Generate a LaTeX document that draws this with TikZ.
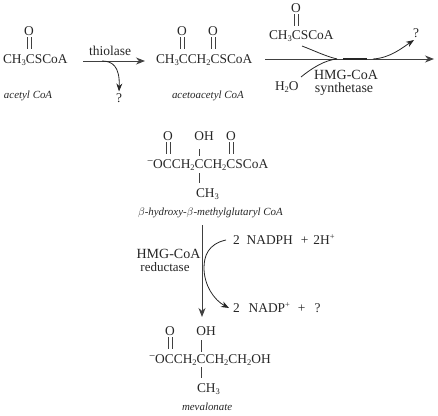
\documentclass[tikz,border=0pt]{standalone}
\usepackage{fontspec}
\setmainfont{Liberation Serif}
\usetikzlibrary{arrows.meta}
\newcommand{\chemsub}[1]{\raisebox{-0.35ex}{\fontsize{8.5}{9}\selectfont #1}}
\newcommand{\chemsup}[1]{\raisebox{0.75ex}{\fontsize{8.5}{9}\selectfont #1}}
\newcommand{\chemminus}{\raisebox{0.62ex}{\fontsize{11}{12}\selectfont −}}
\tikzset{
  every node/.style={inner sep=0pt,outer sep=0pt,text=black!85},
  chemtext/.style={anchor=base west,font=\fontsize{13.4}{15}\selectfont},
  atomtext/.style={anchor=center,font=\fontsize{13.4}{15}\selectfont},
  enzyme/.style={anchor=base,font=\fontsize{14}{16}\selectfont},
  molname/.style={anchor=base west,font=\fontsize{10.9}{12}\selectfont\itshape},
  bondline/.style={draw=black!75,line width=0.7pt},
  rxnarrow/.style={draw=black!75,line width=1pt,-{Stealth[length=9pt,width=7pt]}},
  sideline/.style={draw=black!85,line width=0.8pt},
  sidearrow/.style={sideline,-{Stealth[length=8pt,width=6pt]}},
}
\newcommand{\dbl}[3]{\draw[bondline] ([xshift=-2pt,yshift=-#2]#1.south) -- ++(0,#3); \draw[bondline] ([xshift=2pt,yshift=-#2]#1.south) -- ++(0,#3);}
\begin{document}
\begin{tikzpicture}[x=1pt,y=-1pt]
\useasboundingbox (0,0) rectangle (438,415);
% acetyl CoA
\node[chemtext] (m1) at (3,63) {CH\chemsub{3}CSCoA};
\node[atomtext] (o1) at (29,31) {O};
\dbl{o1}{1.5pt}{12}
\node[molname] (n1) at (4,98) {acetyl CoA};
% thiolase
\coordinate (a1s) at (83,61); \coordinate (a1e) at (145,61);
\draw[rxnarrow] (a1s) -- (a1e);
\node[enzyme,font=\fontsize{13.5}{15}\selectfont] (e1) at (110,55) {thiolase};
\coordinate (s1) at (102,61);
\node[atomtext] (q1) at (119,98) {?};
\draw[sidearrow] (s1) .. controls (112,61) and (120,66) .. ([yshift=2pt]q1.north);
% acetoacetyl CoA
\node[chemtext] (m2) at (156,63) {CH\chemsub{3}CCH\chemsub{2}CSCoA};
\node[atomtext] (o2) at (182,31) {O};
\node[atomtext] (o3) at (213,31) {O};
\dbl{o2}{1.5pt}{12}
\dbl{o3}{1.5pt}{12}
\node[molname] (n2) at (172,98) {acetoacetyl CoA};
% synthase step
\coordinate (a2s) at (265,59); \coordinate (a2e) at (434,59);
\draw[rxnarrow] (a2s) -- (a2e);
\node[chemtext] (m3) at (269,39) {CH\chemsub{3}CSCoA};
\node[atomtext] (o4) at (296,8) {O};
\dbl{o4}{1.5pt}{12}
\node[chemtext] (w) at (275,90) {H\chemsub{2}O};
\coordinate (j1) at (337,59); \coordinate (j2) at (373,59);
\draw[sideline] (302,46) .. controls (315,51) and (325,56) .. (j1);
\draw[sideline] (301,77) .. controls (312,68) and (325,60) .. (j1);
\draw[line width=1.5pt,draw=black!85] (343,59) -- (367,59);
\node[atomtext] (q2) at (416,33) {?};
\draw[sidearrow] (j2) .. controls (390,58) and (402,48) .. (414,40);
\node[enzyme] (e2) at (346,79) {HMG-CoA};
\node[enzyme] (e2b) at (344,92) {synthetase};
% HMG-CoA
\node[chemtext] (m4) at (147,168) {\chemminus OCCH\chemsub{2}CCH\chemsub{2}CSCoA};
\node[atomtext] (o5) at (168,136) {O};
\node[atomtext] (oh1) at (204,136) {OH};
\node[atomtext] (o6) at (231,136) {O};
\dbl{o5}{1.5pt}{12}
\dbl{o6}{1.5pt}{12}
\draw[bondline] (199,149) -- (199,156);
\draw[bondline] (199,173) -- (199,183);
\node[chemtext] (c1) at (196,197) {CH\chemsub{3}};
\node[molname] (n3) at (138,215) {$\beta$-hydroxy-$\beta$-methylglutaryl CoA};
% reductase
\coordinate (a3s) at (202,225); \coordinate (a3e) at (202,317);
\draw[rxnarrow] (a3s) -- (a3e);
\node[enzyme] (e3) at (168.5,258) {HMG-CoA};
\node[enzyme,font=\fontsize{13}{15}\selectfont] (e3b) at (165,271) {reductase};
\node[chemtext] (r1) at (233,244) {2\hspace{7pt}NADPH\hspace{8pt}+\hspace{5pt}2H\chemsup{+}};
\node[chemtext] (r2) at (233,312) {2\hspace{9pt}NADP\chemsup{+}\hspace{8pt}+\hspace{9pt}?};
\draw[sidearrow] ([xshift=-7pt,yshift=4pt]r1.base west) .. controls (208,244) and (204,256) .. (204,268) .. controls (204,285) and (214,300) .. ([xshift=-4pt,yshift=4pt]r2.base west);
% mevalonate
\node[chemtext] (m5) at (149,363) {\chemminus OCCH\chemsub{2}CCH\chemsub{2}CH\chemsub{2}OH};
\node[atomtext] (o7) at (170,331) {O};
\node[atomtext] (oh2) at (206,331) {OH};
\dbl{o7}{1.5pt}{12}
\draw[bondline] (201,340) -- (201,352);
\draw[bondline] (201,367) -- (201,378);
\node[chemtext] (c2) at (197,392) {CH\chemsub{3}};
\node[molname] (n4) at (182,410) {mevalonate};
\end{tikzpicture}
\end{document}
